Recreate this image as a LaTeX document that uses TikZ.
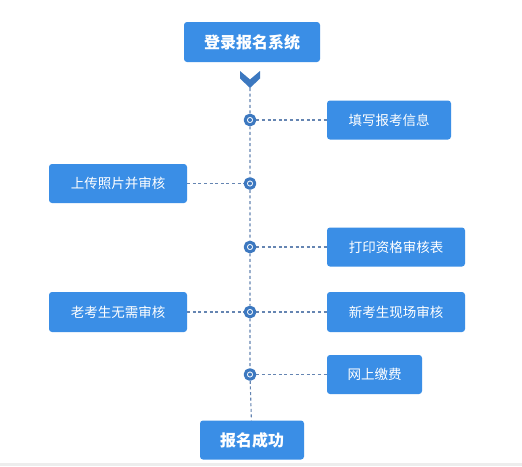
\documentclass[tikz,border=0pt]{standalone}
\usepackage{fontspec}
\setmainfont{Noto Sans CJK SC}
\definecolor{boxblue}{HTML}{3A8EE6}
\definecolor{dotblue}{HTML}{3C78C0}
\definecolor{linegray}{HTML}{6585B2}
\begin{document}
\begin{tikzpicture}[x=1pt,y=-1pt,line cap=round,line join=round,
	stepbox/.style={rectangle,rounded corners=3pt,fill=boxblue,text=white,inner sep=0pt,
		minimum height=39pt,font=\fontsize{13.5}{14}\selectfont},
	headbox/.style={stepbox,minimum height=40pt,font=\fontsize{16}{18}\selectfont\bfseries},
	dot/.style={circle,draw=dotblue,line width=3.1pt,fill=white,minimum size=9.6pt,inner sep=0pt,
		path picture={\fill[dotblue](path picture bounding box.center)circle(2pt);}},
	link/.style={draw=linegray,line width=1.1pt,dash pattern=on 3pt off 2.6pt,line cap=butt}]
				\useasboundingbox (0,0) rectangle (522,466);
				\fill[white] (0,0) rectangle (522,463);
				\fill[black!7] (0,463) rectangle (522,466);
				% boxes
				\node[headbox,minimum width=136pt](login) at (252,42){登录报名系统};
				\node[stepbox,minimum width=124pt](fill) at (389,120){填写报考信息};
				\node[stepbox,minimum width=138pt](upload) at (118,183.5){上传照片并审核};
				\node[stepbox,minimum width=138pt](print) at (396,247){打印资格审核表};
				\node[stepbox,minimum width=138pt,minimum height=40pt](old) at (118,312){老考生无需审核};
				\node[stepbox,minimum width=138pt,minimum height=40pt](new) at (396,312){新考生现场审核};
				\node[stepbox,minimum width=95pt](pay) at (374.5,374.5){网上缴费};
				\node[headbox,minimum width=104pt,minimum height=39pt](done) at (252,440){报名成功};
				% chevron
				\fill[dotblue] (240,71)--(250,79.5)--(260,71)--(260,78.5)--(250,88)--(240,78.5)--cycle;
				\path (250,88)coordinate(chev);
				% dots on the line
				\node[dot](d1) at (250,120){};
				\node[dot](d2) at (250,183.5){};
				\node[dot](d3) at (250,247){};
				\node[dot](d4) at (250,312){};
				\node[dot](d5) at (250,374.5){};
				% dashed links
				\draw[link](chev)--(d1)--(d2)--(d3)--(d4)--(d5)--(done);
				\draw[link](d1)--(fill);
				\draw[link](upload)--(d2);
				\draw[link](d3)--(print);
				\draw[link](old)--(d4);
				\draw[link](d4)--(new);
				\draw[link](d5)--(pay);
			\end{tikzpicture}
\end{document}
